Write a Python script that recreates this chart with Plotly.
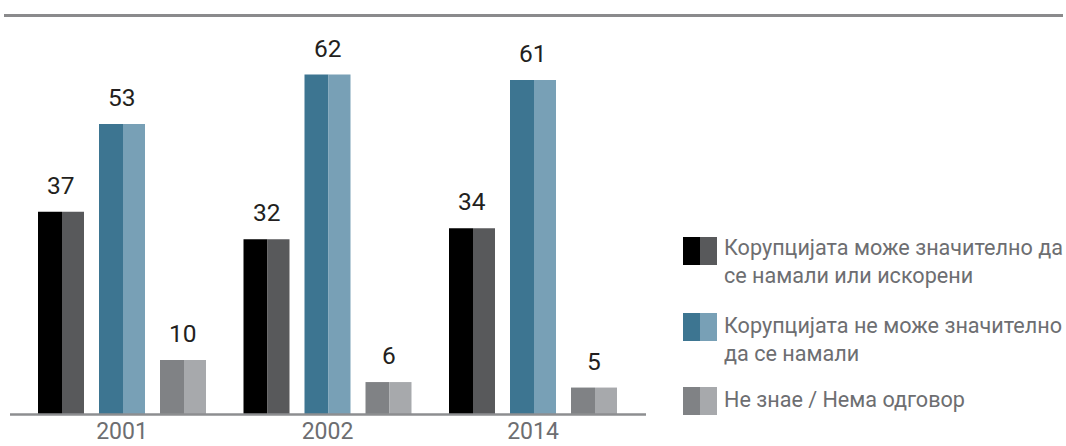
import plotly.graph_objects as go

# ---- data ----
years = ["2001", "2002", "2014"]
can_reduce = [37, 32, 34]
cannot_reduce = [53, 62, 61]
dont_know = [10, 6, 5]
series_names = [
    "Корупцијата може значително да<br>се намали или искорени",
    "Корупцијата не може значително<br>да се намали",
    "Не знае / Нема одговор",
]
series_values = [can_reduce, cannot_reduce, dont_know]
dark_colors = ["#000000", "#3d7591", "#808285"]
light_colors = ["#58595b", "#78a0b6", "#a7a9ac"]

W, H = 1066, 446
M_T, M_B = 15, 31
PLOT_H = H - M_T - M_B
GROUP_PX = 205.5
FIRST_CENTER_PX = 122
Y_MAX = PLOT_H / 5.49

def u(px):
    return px / GROUP_PX

xpos = list(range(len(years)))

fig = go.Figure()
for k, vals in enumerate(series_values):
    left = -84 + 61 * k
    fig.add_trace(go.Bar(x=xpos, y=vals, width=u(24), offset=u(left),
                         marker=dict(color=dark_colors[k], line=dict(width=0)),
                         showlegend=False, hoverinfo="skip"))
    fig.add_trace(go.Bar(x=xpos, y=vals, width=u(22), offset=u(left + 24),
                         marker=dict(color=light_colors[k], line=dict(width=0)),
                         showlegend=False, hoverinfo="skip"))
    for i, v in zip(xpos, vals):
        fig.add_annotation(x=i + u(-61 + 61 * k), y=v, text=str(v), showarrow=False,
                           xref="x", yref="y", yshift=10, yanchor="bottom",
                           font=dict(family="Roboto", size=24.5, color="#231f20"))

def py(p):
    return (H - M_B - p) / PLOT_H

shapes = []
# top rule
shapes.append(dict(type="line", xref="paper", yref="paper", x0=4 / W, x1=1063 / W,
                   y0=py(15.5), y1=py(15.5), line=dict(color="#8a8a8c", width=3)))
# baseline
shapes.append(dict(type="line", xref="paper", yref="paper", x0=10 / W, x1=646 / W,
                   y0=py(414.5), y1=py(414.5), line=dict(color="#8d8e90", width=2.5)))

# legend
leg_tops = [237, 313, 387]
leg_text_centers = [261, 339, 399]
for k in range(3):
    t = leg_tops[k]
    shapes.append(dict(type="rect", xref="paper", yref="paper", x0=683 / W, x1=700 / W,
                       y0=py(t + 28), y1=py(t), fillcolor=dark_colors[k], line=dict(width=0)))
    shapes.append(dict(type="rect", xref="paper", yref="paper", x0=700 / W, x1=717 / W,
                       y0=py(t + 28), y1=py(t), fillcolor=light_colors[k], line=dict(width=0)))
    fig.add_annotation(xref="paper", yref="paper", x=722 / W, y=py(leg_text_centers[k]),
                       xanchor="left", yanchor="middle", align="left", showarrow=False,
                       text=series_names[k],
                       font=dict(family="Roboto", size=21.6, color="#6d6e71"))

x_range = [u(-FIRST_CENTER_PX), u(W - FIRST_CENTER_PX)]
fig.update_layout(
    width=W, height=H,
    margin=dict(l=0, r=0, t=M_T, b=M_B),
    paper_bgcolor="white", plot_bgcolor="white",
    barmode="overlay",
    shapes=shapes,
    xaxis=dict(range=x_range, tickmode="array", tickvals=xpos, ticktext=years,
               showgrid=False, zeroline=False, showline=False, ticks="",
               tickfont=dict(family="Roboto", size=23, color="#6d6e71"),
               fixedrange=True),
    yaxis=dict(range=[0, Y_MAX], showgrid=False, zeroline=False, showline=False,
               showticklabels=False, fixedrange=True),
)
fig.write_html(
    "out.html",
    config={"displayModeBar": False},
    post_script="document.body.style.margin='0';document.documentElement.style.overflow='hidden';",
)
